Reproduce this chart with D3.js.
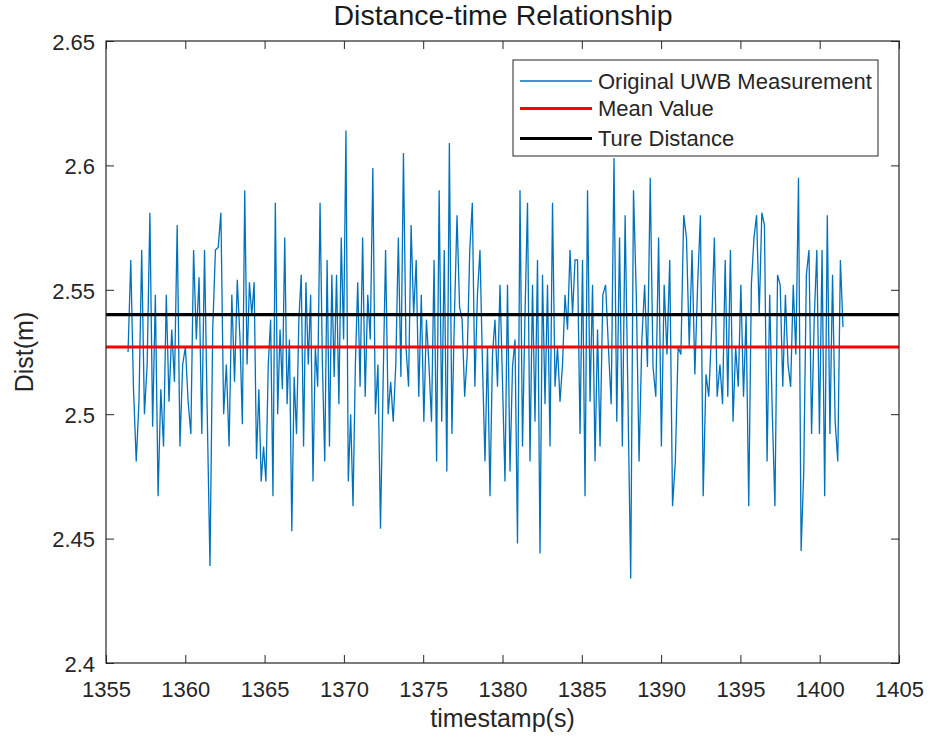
<!DOCTYPE html>
<html>
<head>
<meta charset="utf-8">
<script src="https://cdn.jsdelivr.net/npm/d3@7"></script>
<style>
  html, body { margin: 0; padding: 0; background: #ffffff; }
  svg { display: block; font-family: "Liberation Sans", Arial, Helvetica, sans-serif; }
</style>
</head>
<body>
<svg id="chart" width="930" height="747"></svg>
<script>
// ---------------- data ----------------
const title = "Distance-time Relationship";
const xLabel = "timestamp(s)";
const yLabel = "Dist(m)";
const xTicks = [1355, 1360, 1365, 1370, 1375, 1380, 1385, 1390, 1395, 1400, 1405];
const yTicks = [2.4, 2.45, 2.5, 2.55, 2.6, 2.65];
const yTickLabels = ["2.4", "2.45", "2.5", "2.55", "2.6", "2.65"];
const meanValue = 2.527;
const trueDistance = 2.54;
const seriesNames = ["Original UWB Measurement", "Mean Value", "Ture Distance"];
// segment boundaries (timestamps, s) of the measurement record
const segTimes = [1356.39, 1363.45, 1371.02, 1378.58, 1386.15, 1393.71, 1401.47];
// measured distances (m), read segment by segment
const dist1 = [2.525, 2.562, 2.510, 2.481, 2.505, 2.566, 2.500, 2.520, 2.581, 2.495, 2.548, 2.467, 2.510, 2.487,
  2.548, 2.505, 2.534, 2.513, 2.576, 2.487, 2.520, 2.527, 2.505, 2.492, 2.566, 2.530, 2.555, 2.492, 2.566, 2.500,
  2.439, 2.534, 2.566, 2.567, 2.581, 2.500, 2.520, 2.487, 2.548, 2.513, 2.554];
const dist2 = [2.530, 2.496, 2.590, 2.520, 2.553, 2.540, 2.553, 2.482, 2.510, 2.473, 2.487, 2.473, 2.520, 2.538,
  2.467, 2.585, 2.500, 2.534, 2.510, 2.571, 2.504, 2.530, 2.453, 2.515, 2.492, 2.538, 2.556, 2.487, 2.553, 2.520,
  2.548, 2.473, 2.527, 2.511, 2.585, 2.520, 2.481, 2.562, 2.487, 2.556, 2.515, 2.556, 2.504, 2.571, 2.530, 2.614,
  2.473, 2.500, 2.463, 2.520, 2.553];
const dist3 = [2.511, 2.571, 2.507, 2.548, 2.530, 2.599, 2.500, 2.520, 2.454, 2.511, 2.566, 2.500, 2.513, 2.497,
  2.520, 2.571, 2.515, 2.605, 2.527, 2.511, 2.576, 2.540, 2.562, 2.507, 2.548, 2.497, 2.538, 2.520, 2.497, 2.562,
  2.481, 2.590, 2.497, 2.566, 2.477, 2.609, 2.492, 2.540, 2.580, 2.543, 2.538, 2.507, 2.524, 2.566, 2.585, 2.511,
  2.548];
const dist4 = [2.566, 2.520, 2.481, 2.527, 2.467, 2.524, 2.538, 2.511, 2.552, 2.513, 2.473, 2.552, 2.477, 2.519,
  2.530, 2.448, 2.590, 2.487, 2.540, 2.585, 2.481, 2.552, 2.497, 2.562, 2.444, 2.556, 2.504, 2.552, 2.487, 2.585,
  2.511, 2.527, 2.505, 2.520, 2.548, 2.534, 2.566, 2.540, 2.562, 2.562, 2.492, 2.562, 2.467, 2.590, 2.505, 2.552,
  2.481, 2.534];
const dist5 = [2.487, 2.548, 2.552, 2.527, 2.504, 2.603, 2.497, 2.571, 2.487, 2.580, 2.507, 2.434, 2.590, 2.548,
  2.481, 2.530, 2.552, 2.519, 2.595, 2.519, 2.507, 2.571, 2.487, 2.552, 2.524, 2.562, 2.463, 2.481, 2.527, 2.524,
  2.580, 2.571, 2.527, 2.566, 2.516, 2.552, 2.580, 2.467, 2.516, 2.507, 2.534, 2.571, 2.507];
const dist6 = [2.520, 2.504, 2.562, 2.507, 2.566, 2.497, 2.527, 2.511, 2.552, 2.507, 2.540, 2.463, 2.552, 2.571,
  2.580, 2.540, 2.581, 2.576, 2.481, 2.548, 2.500, 2.463, 2.556, 2.552, 2.511, 2.548, 2.520, 2.511, 2.552, 2.524,
  2.595, 2.445, 2.477, 2.556, 2.566, 2.492, 2.538, 2.566, 2.492, 2.566, 2.467, 2.580, 2.492, 2.556, 2.497, 2.481,
  2.562, 2.535];
const segments = [dist1, dist2, dist3, dist4, dist5, dist6];

// ---------------- build points ----------------
const points = [];
segments.forEach((seg, k) => {
  const t0 = segTimes[k], t1 = segTimes[k + 1];
  const n = seg.length;
  const last = k === segments.length - 1;
  seg.forEach((v, j) => {
    const t = t0 + j * (t1 - t0) / (last ? n - 1 : n);
    points.push({ t: t, v: v });
  });
});

// ---------------- layout ----------------
const svg = d3.select("#chart");
const L = 106, R = 899, T = 41, B = 663;
const axisColor = "#262626";
const x = d3.scaleLinear().domain([1355, 1405]).range([L, R]);
const y = d3.scaleLinear().domain([2.4, 2.65]).range([B, T]);

svg.append("rect").attr("x", 0).attr("y", 0).attr("width", 930).attr("height", 747).attr("fill", "#ffffff");

svg.append("clipPath").attr("id", "plotclip")
  .append("rect").attr("x", L).attr("y", T).attr("width", R - L).attr("height", B - T);

const plot = svg.append("g").attr("clip-path", "url(#plotclip)");

// measurement line
plot.append("path")
  .datum(points)
  .attr("fill", "none")
  .attr("stroke", "#0072BD")
  .attr("stroke-width", 1.3)
  .attr("d", d3.line().x(d => x(d.t)).y(d => y(d.v)));

// mean value line
plot.append("path")
  .datum([{ t: 1355, v: meanValue }, { t: 1405, v: meanValue }])
  .attr("fill", "none").attr("stroke", "#ff0000").attr("stroke-width", 3.2)
  .attr("d", d3.line().x(d => x(d.t)).y(d => y(d.v)));

// true distance line
plot.append("path")
  .datum([{ t: 1355, v: trueDistance }, { t: 1405, v: trueDistance }])
  .attr("fill", "none").attr("stroke", "#000000").attr("stroke-width", 3.2)
  .attr("d", d3.line().x(d => x(d.t)).y(d => y(d.v)));

// ---------------- axes ----------------
function styleAxis(g) {
  g.select(".domain").remove();
  g.selectAll(".tick line").attr("stroke", axisColor).attr("stroke-width", 1);
  g.selectAll(".tick text").attr("fill", axisColor).attr("font-size", 22)
    .attr("font-family", "'Liberation Sans', Arial, sans-serif");
}

svg.append("g").attr("transform", `translate(0,${B})`)
  .call(d3.axisBottom(x).tickValues(xTicks).tickFormat(d3.format("d")).tickSize(-8).tickPadding(18))
  .call(styleAxis)
  .call(g => g.selectAll(".tick text").attr("dy", "0.71em"));

svg.append("g").attr("transform", `translate(0,${T})`)
  .call(d3.axisTop(x).tickValues(xTicks).tickFormat("").tickSize(-8))
  .call(styleAxis);

svg.append("g").attr("transform", `translate(${L},0)`)
  .call(d3.axisLeft(y).tickValues(yTicks).tickFormat((d, i) => yTickLabels[i]).tickSize(-8).tickPadding(11))
  .call(styleAxis)
  .call(g => g.selectAll(".tick text").attr("dy", "0.38em"));

svg.append("g").attr("transform", `translate(${R},0)`)
  .call(d3.axisRight(y).tickValues(yTicks).tickFormat("").tickSize(-8))
  .call(styleAxis);

// box
svg.append("rect")
  .attr("x", L).attr("y", T).attr("width", R - L).attr("height", B - T)
  .attr("fill", "none").attr("stroke", axisColor).attr("stroke-width", 1.2);

// ---------------- labels ----------------
svg.append("text").attr("x", (L + R) / 2 + 0.5).attr("y", 25)
  .attr("text-anchor", "middle").attr("font-size", 28.5).attr("fill", "#1a1a1a").text(title);

svg.append("text").attr("x", (L + R) / 2).attr("y", 727)
  .attr("text-anchor", "middle").attr("font-size", 25).attr("fill", axisColor).text(xLabel);

svg.append("text")
  .attr("transform", `translate(33,${(T + B) / 2}) rotate(-90)`)
  .attr("text-anchor", "middle").attr("font-size", 25).attr("fill", axisColor).text(yLabel);

// ---------------- legend ----------------
const legend = svg.append("g");
legend.append("rect").attr("x", 513).attr("y", 60).attr("width", 365).attr("height", 96)
  .attr("fill", "#ffffff").attr("stroke", axisColor).attr("stroke-width", 1);
const legendItems = [
  { name: seriesNames[0], color: "#0072BD", w: 1.3, cy: 81 },
  { name: seriesNames[1], color: "#ff0000", w: 3.2, cy: 108.5 },
  { name: seriesNames[2], color: "#000000", w: 3.2, cy: 138.5 }
];
legendItems.forEach(it => {
  legend.append("line").attr("x1", 520).attr("x2", 592).attr("y1", it.cy).attr("y2", it.cy)
    .attr("stroke", it.color).attr("stroke-width", it.w);
  legend.append("text").attr("x", 598).attr("y", it.cy).attr("dy", "0.36em")
    .attr("font-size", 22).attr("fill", axisColor).text(it.name);
});
</script>
</body>
</html>
